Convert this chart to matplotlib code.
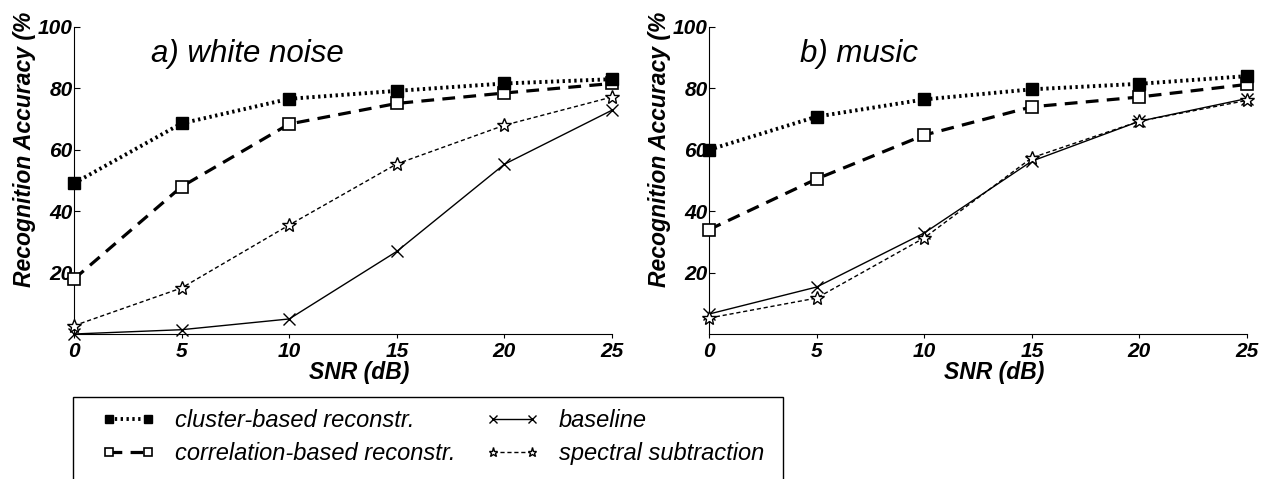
import numpy as np
import matplotlib
matplotlib.use('Agg')
import matplotlib.pyplot as plt
from matplotlib.patches import Rectangle

plt.rcParams['font.family'] = ['Liberation Sans', 'DejaVu Sans']

snr = [0, 5, 10, 15, 20, 25]

# a) white noise
white_cluster = [49.1, 68.6, 76.6, 79.2, 81.6, 83.0]
white_corr = [17.9, 48.0, 68.4, 75.1, 78.5, 81.6]
white_base = [0.0, 1.4, 4.9, 26.9, 55.3, 72.9]
white_spec = [2.7, 15.0, 35.5, 55.4, 68.0, 77.2]

# b) music
music_cluster = [60.0, 70.8, 76.4, 79.7, 81.5, 84.0]
music_corr = [34.0, 50.5, 64.8, 74.0, 77.2, 81.3]
music_base = [6.5, 15.3, 32.9, 56.3, 69.3, 76.7]
music_spec = [5.2, 11.7, 31.3, 57.4, 69.3, 76.1]

labels = ['cluster-based reconstr.', 'correlation-based reconstr.',
          'baseline', 'spectral subtraction']
yticks = [20, 40, 60, 80, 100]

styles = {
    'baseline': dict(ls='-', lw=1.0, marker='x', ms=9, mew=1.0, color='black'),
    'spectral subtraction': dict(ls=(0, (3, 2)), lw=1.0, marker='*', ms=10, mew=1.0,
                                 mfc='white', mec='black', color='black'),
    'correlation-based reconstr.': dict(ls=(0, (4, 2.6)), lw=2.3, marker='s', ms=8,
                                        mew=1.2, mfc='white', mec='black', color='black'),
    'cluster-based reconstr.': dict(ls=(0, (0.6, 0.9)), lw=2.8, marker='s', ms=8,
                                    mew=1.0, mfc='black', mec='black', color='black'),
}

fig = plt.figure(figsize=(12.67, 4.79), dpi=100)
ax1 = fig.add_axes([74 / 1267, 1 - 334 / 479, 538 / 1267, 307 / 479])
ax2 = fig.add_axes([709 / 1267, 1 - 334 / 479, 538 / 1267, 307 / 479])

panels = [
    (ax1, 'a) white noise', 3.6, [white_cluster, white_corr, white_base, white_spec]),
    (ax2, 'b) music', 4.25, [music_cluster, music_corr, music_base, music_spec]),
]

handles = {}
for ax, title, tx, series in panels:
    data = dict(zip(labels, series))
    for name in ['baseline', 'spectral subtraction', 'correlation-based reconstr.',
                 'cluster-based reconstr.']:
        h, = ax.plot(snr, data[name], clip_on=False, zorder=3, **styles[name])
        handles[name] = h
    ax.set_xlim(0, 25)
    ax.set_ylim(0, 100)
    ax.set_xticks(snr)
    ax.set_yticks(yticks)
    ax.spines['top'].set_visible(False)
    ax.spines['right'].set_visible(False)
    ax.tick_params(axis='x', direction='out', length=3, pad=3)
    ax.tick_params(axis='y', direction='in', length=4, pad=1)
    for lab in ax.get_xticklabels() + ax.get_yticklabels():
        lab.set_fontsize(15)
        lab.set_fontweight('bold')
        lab.set_fontstyle('italic')
    ax.set_xlabel('SNR (dB)', fontsize=16.5, fontweight='bold', style='italic', labelpad=0)
    ax.xaxis.set_label_coords(0.53, -0.088)
    ax.set_ylabel('Recognition Accuracy (%', fontsize=16.5, fontweight='bold', style='italic')
    ax.yaxis.set_label_coords(-0.07, 0.603)
    ax.text(tx, 88.6, title, fontsize=22.5, style='italic', ha='left', va='baseline')

fig.patches.append(Rectangle((73 / 1267, -0.1), (783 - 73) / 1267, 1 - 397 / 479 + 0.1,
                             transform=fig.transFigure, fill=False, lw=1.0,
                             edgecolor='black'))
fig.legend([handles[l] for l in labels], labels, ncol=2, loc='upper left',
           bbox_to_anchor=(102 / 1267, 1 - 409 / 479), frameon=False, numpoints=2,
           markerscale=0.65, handlelength=2.25, handletextpad=0.85, columnspacing=1.27,
           labelspacing=0.42, borderpad=0, borderaxespad=0,
           prop=dict(family=['Liberation Sans Narrow', 'Liberation Sans'], size=17,
                     style='italic'))

plt.savefig('out.png', dpi=100)
